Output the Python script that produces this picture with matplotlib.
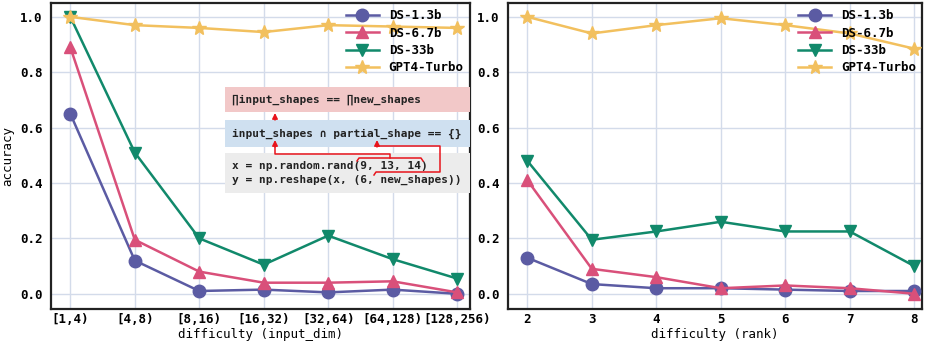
import matplotlib.pyplot as plt
from matplotlib.lines import Line2D
from matplotlib.patches import FancyBboxPatch

# accuracy by input_dim bucket
dim_labels = ['[1,4)', '[4,8)', '[8,16)', '[16,32)', '[32,64)', '[64,128)', '[128,256)']
dim_ds13 = [0.65, 0.12, 0.01, 0.015, 0.005, 0.015, 0.0]
dim_ds67 = [0.89, 0.195, 0.08, 0.04, 0.04, 0.045, 0.005]
dim_ds33 = [1.0, 0.51, 0.2, 0.105, 0.21, 0.125, 0.055]
dim_gpt4 = [1.0, 0.97, 0.96, 0.945, 0.97, 0.965, 0.96]

# accuracy by rank
ranks = [2, 3, 4, 5, 6, 7, 8]
rank_ds13 = [0.13, 0.035, 0.02, 0.02, 0.015, 0.01, 0.01]
rank_ds67 = [0.41, 0.09, 0.06, 0.02, 0.03, 0.02, 0.0]
rank_ds33 = [0.48, 0.195, 0.225, 0.26, 0.225, 0.225, 0.1]
rank_gpt4 = [1.0, 0.94, 0.97, 0.995, 0.97, 0.94, 0.885]

models = ['DS-1.3b', 'DS-6.7b', 'DS-33b', 'GPT4-Turbo']
colors = ['#5b5ba3', '#d9507a', '#11896b', '#f2c05e']
markers = ['o', '^', 'v', '*']
msizes = [9, 9, 9, 10]

mono = 'DejaVu Sans Mono'
plt.rcParams['font.family'] = mono

fig = plt.figure(figsize=(9.28, 3.43), dpi=100)
ax1 = fig.add_axes([51 / 928, 1 - 309 / 343, (470 - 51) / 928, 306 / 343])
ax2 = fig.add_axes([508 / 928, 1 - 309 / 343, (922 - 508) / 928, 306 / 343])


def draw(ax, xs, series):
    for vals, name, c, m, s in zip(series, models, colors, markers, msizes):
        ax.plot(xs, vals, color=c, marker=m, markersize=s, linewidth=1.8,
                label=name, zorder=3)
    ax.set_ylim(-0.055, 1.05)
    ax.set_yticks([0.0, 0.2, 0.4, 0.6, 0.8, 1.0])
    ax.grid(True, color='#d3dbea', linewidth=1.0, zorder=0)
    ax.set_axisbelow(True)
    for sp in ax.spines.values():
        sp.set_linewidth(1.6)
        sp.set_color('#222222')
    ax.tick_params(axis='x', length=0, pad=3, labelsize=9)
    ax.tick_params(axis='y', length=0, pad=6, labelsize=9)
    for lab in ax.get_xticklabels() + ax.get_yticklabels():
        lab.set_fontweight('bold')
    leg = ax.legend(loc='upper right', frameon=False, fontsize=9,
                    handlelength=2.6, borderaxespad=0.1, labelspacing=0.35)
    for t in leg.get_texts():
        t.set_fontweight('bold')


xi = list(range(len(dim_labels)))
draw(ax1, xi, [dim_ds13, dim_ds67, dim_ds33, dim_gpt4])
ax1.set_xticks(xi)
ax1.set_xticklabels(dim_labels, fontweight='bold')
ax1.set_xlim(-0.3, 6.2)
ax1.set_xlabel('difficulty (input_dim)', fontsize=9, labelpad=1)
ax1.set_ylabel('accuracy', fontsize=9, labelpad=4)

draw(ax2, ranks, [rank_ds13, rank_ds67, rank_ds33, rank_gpt4])
ax2.set_xticks(ranks)
ax2.set_xticklabels([str(r) for r in ranks], fontweight='bold')
ax2.set_xlim(1.7, 8.12)
ax2.set_xlabel('difficulty (rank)', fontsize=9, labelpad=1)


# constraint boxes, placed in figure pixels
def fx(px):
    return px / 928


def fy(py):
    return 1 - py / 343


def box(x0, y0, x1, y1, face, lines):
    p = FancyBboxPatch((fx(x0), fy(y1)), fx(x1) - fx(x0), fy(y0) - fy(y1),
                       boxstyle='square,pad=0', transform=fig.transFigure,
                       facecolor=face, edgecolor='none', zorder=5)
    fig.patches.append(p)
    fig.text(fx(x0 + 7), fy((y0 + y1) / 2), lines, fontsize=8, fontweight='bold',
             va='center', ha='left', color='#222222', linespacing=1.35,
             family=['DejaVu Sans Mono', 'DejaVu Sans'], zorder=6)


box(225, 87, 470, 112, '#f2c8c8', '∏input_shapes == ∏new_shapes')
box(225, 120, 470, 147, '#cfe0f0', 'input_shapes ∩ partial_shape == {}')
box(225, 153, 470, 193, '#ececec',
    'x = np.random.rand(9, 13, 14)\ny = np.reshape(x, (6, new_shapes))')

red = '#e8141c'


def path(pts):
    fig.lines.append(Line2D([fx(p[0]) for p in pts], [fy(p[1]) for p in pts],
                            transform=fig.transFigure, color=red, linewidth=1.1,
                            zorder=7))


def arrow_up(x, y_from, y_to):
    fig.add_artist(plt.Annotation('', xy=(fx(x), fy(y_to)), xytext=(fx(x), fy(y_from)),
                                  xycoords='figure fraction', textcoords='figure fraction',
                                  arrowprops=dict(arrowstyle='-|>', color=red, lw=1.1,
                                                  mutation_scale=8, shrinkA=0, shrinkB=0),
                                  zorder=7))


# shape args of rand -> disjointness check
path([(275, 143), (275, 154), (390, 154), (390, 158)])
path([(357, 161), (359, 158), (421, 158), (423, 161)])
arrow_up(275, 147, 140)
# reshape args -> disjointness check
path([(377, 143), (377, 146), (440, 146), (440, 172), (376, 172), (374, 175)])
arrow_up(377, 147, 140)
# disjointness -> product equality
arrow_up(275, 120, 113)

fig.savefig('out.png', dpi=100)
